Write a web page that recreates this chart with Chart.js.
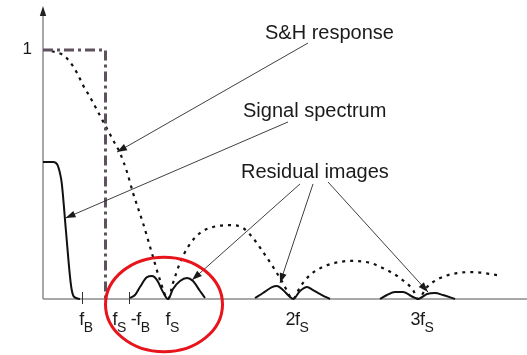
<!DOCTYPE html>
<html>
<head>
<meta charset="utf-8">
<script src="https://cdn.jsdelivr.net/npm/chart.js@4/dist/chart.umd.min.js"></script>
<style>
  html, body { margin: 0; padding: 0; background: #fff; }
  #wrap { width: 527px; height: 355px; }
</style>
</head>
<body>
<div id="wrap"><canvas id="c" width="527" height="355"></canvas></div>
<script>
// Frequency axis in units of the sampling rate fs; amplitude relative to DC gain.

// Ideal (brick-wall) response, drawn dash-dot up to fs/2
const idealX = [0, 0.5, 0.5];
const idealY = [1, 1, 0];

// Sample-and-hold |sinc| response
const shX = [0.07, 0.096, 0.16, 0.216, 0.272, 0.32, 0.376, 0.432, 0.496, 0.56, 0.616, 0.672, 0.72, 0.8, 0.88, 0.936, 1.0,
             1.04, 1.096, 1.16, 1.256, 1.36, 1.496, 1.6, 1.68, 1.76, 1.84, 1.92, 2.0,
             2.056, 2.136, 2.24, 2.376, 2.48, 2.616, 2.752, 2.856, 2.96, 3.0,
             3.072, 3.176, 3.312, 3.44, 3.632];
const shY = [0.995, 0.992, 0.98, 0.952, 0.908, 0.859, 0.811, 0.759, 0.699, 0.639, 0.586, 0.51, 0.426, 0.305, 0.169, 0.076, 0,
             0.064, 0.145, 0.209, 0.265, 0.289, 0.297, 0.285, 0.245, 0.189, 0.129, 0.064, 0,
             0.048, 0.096, 0.129, 0.149, 0.153, 0.145, 0.116, 0.084, 0.036, 0,
             0.048, 0.084, 0.104, 0.108, 0.096];

// Baseband signal spectrum
const sigX = [0, 0.08, 0.115, 0.136, 0.15, 0.183, 0.216, 0.23, 0.248, 0.296];
const sigY = [0.55, 0.55, 0.539, 0.505, 0.465, 0.277, 0.09, 0.036, 0.009, 0];

// Residual images around fs, 2fs and 3fs
const img1X = [0.696, 0.736, 0.776, 0.832, 0.872, 0.912, 0.96, 1.0, 1.04, 1.096, 1.152, 1.2, 1.256, 1.296];
const img1Y = [0.004, 0.016, 0.048, 0.088, 0.092, 0.076, 0.028, 0, 0.04, 0.072, 0.084, 0.072, 0.032, 0.004];
const img2X = [1.696, 1.76, 1.832, 1.872, 1.92, 1.976, 2.0, 2.056, 2.112, 2.16, 2.232, 2.296];
const img2Y = [0.004, 0.024, 0.048, 0.052, 0.036, 0.008, 0, 0.032, 0.048, 0.036, 0.016, 0];
const img3X = [2.696, 2.752, 2.816, 2.88, 2.96, 3.0, 3.072, 3.136, 3.2, 3.296];
const img3Y = [0, 0.016, 0.028, 0.028, 0.008, 0, 0.02, 0.024, 0.016, 0];

// Frequency markers on the axis
const fB = 0.31;
const tickMarks = [fB, 1 - fB];
const tickLabelValues = [fB, 1 - fB, 1, 2, 3];
const tickLabels = ['f_B', 'f_S -f_B', 'f_S', '2f_S', '3f_S'];

const pts = (xs, ys) => xs.map((x, i) => ({ x, y: ys[i] }));

const FONT = "'Liberation Sans', Arial, Helvetica, sans-serif";
const INK = '#1a1a1a';

// Callouts: label text with arrows pointing into the plot (data units)
const callouts = [
  { text: 'S&H response',    at: [1.776, 1.044], arrows: [[[2.12, 1.028], [0.592, 0.59]]] },
  { text: 'Signal spectrum', at: [1.6, 0.731],   arrows: [[[1.96, 0.711], [0.18, 0.325]]] },
  { text: 'Residual images', at: [1.584, 0.486], arrows: [
      [[2.056, 0.462], [1.192, 0.076]],
      [[2.16, 0.462], [1.896, 0.064]],
      [[2.28, 0.47], [3.08, 0.028]]
  ] }
];

function arrowHead(ctx, x0, y0, x1, y1, len, half) {
  const a = Math.atan2(y1 - y0, x1 - x0);
  ctx.beginPath();
  ctx.moveTo(x1, y1);
  ctx.lineTo(x1 - len * Math.cos(a) + half * Math.sin(a), y1 - len * Math.sin(a) - half * Math.cos(a));
  ctx.lineTo(x1 - len * Math.cos(a) - half * Math.sin(a), y1 - len * Math.sin(a) + half * Math.cos(a));
  ctx.closePath();
  ctx.fill();
}

// Draw "f_S"-style text: character after "_" is a subscript
function drawSubText(ctx, label, cx, baseline) {
  const mainFont = '18px ' + FONT, subFont = '14px ' + FONT;
  const parts = [];
  for (let i = 0; i < label.length; i++) {
    if (label[i] === '_') { parts.push({ t: label[i + 1], sub: true }); i++; }
    else parts.push({ t: label[i], sub: false });
  }
  const widths = parts.map(p => { ctx.font = p.sub ? subFont : mainFont; return ctx.measureText(p.t).width; });
  const total = widths.reduce((a, b) => a + b, 0);
  const subCount = parts.filter(p => p.sub).length;
  // single trailing subscript: centre the main part on the marker
  let start;
  if (subCount === 1 && parts[parts.length - 1].sub) start = cx - (total - widths[widths.length - 1]) / 2;
  else start = cx - total / 2 + 3;
  let x = start;
  parts.forEach((p, i) => {
    ctx.font = p.sub ? subFont : mainFont;
    ctx.fillText(p.t, x, p.sub ? baseline + 7 : baseline);
    x += widths[i] - (p.sub ? 0 : 0.5);
  });
}

const axesPlugin = {
  id: 'axesDecor',
  beforeDatasetsDraw(chart) {
    const { ctx, chartArea: a, scales: { x, y } } = chart;
    const x0 = x.getPixelForValue(0), y0 = y.getPixelForValue(0);
    ctx.save();
    ctx.strokeStyle = '#8c8c8c';
    ctx.lineWidth = 1.5;
    ctx.beginPath();
    ctx.moveTo(x0, y0); ctx.lineTo(a.right, y0);
    ctx.moveTo(x0, y0); ctx.lineTo(x0, a.top + 6);
    ctx.stroke();
    ctx.fillStyle = '#222';
    arrowHead(ctx, x0, y0, x0, a.top - 2, 10, 3.2);
    // frequency tick marks
    ctx.strokeStyle = '#333';
    ctx.lineWidth = 1;
    tickMarks.forEach(v => {
      const px = Math.round(x.getPixelForValue(v)) + 0.5;
      ctx.beginPath(); ctx.moveTo(px, y0 - 7); ctx.lineTo(px, y0 + 5); ctx.stroke();
    });
    ctx.restore();
  },
  afterDraw(chart) {
    const { ctx, scales: { x, y } } = chart;
    const y0 = y.getPixelForValue(0);
    ctx.save();
    ctx.fillStyle = INK;
    ctx.textBaseline = 'alphabetic';
    // tick labels
    tickLabelValues.forEach((v, i) => drawSubText(ctx, tickLabels[i], x.getPixelForValue(v), y0 + 26));
    // unit level on the amplitude axis
    ctx.font = '17px ' + FONT;
    ctx.textAlign = 'right';
    ctx.fillText('1', x.getPixelForValue(0) - 11, y.getPixelForValue(1) + 4);
    ctx.textAlign = 'left';
    // callouts
    ctx.font = '20px ' + FONT;
    ctx.strokeStyle = '#2a2a2a';
    ctx.fillStyle = INK;
    ctx.lineWidth = 0.9;
    callouts.forEach(c => {
      ctx.fillText(c.text, x.getPixelForValue(c.at[0]), y.getPixelForValue(c.at[1]));
      c.arrows.forEach(([p, q]) => {
        const xa = x.getPixelForValue(p[0]), ya = y.getPixelForValue(p[1]);
        const xb = x.getPixelForValue(q[0]), yb = y.getPixelForValue(q[1]);
        ctx.beginPath(); ctx.moveTo(xa, ya); ctx.lineTo(xb, yb); ctx.stroke();
        arrowHead(ctx, xa, ya, xb, yb, 10, 3.5);
      });
    });
    // highlight ring around the first image pair
    const cx = x.getPixelForValue(0.968), cy = y.getPixelForValue(-0.022);
    const rx = x.getPixelForValue(0.468) - x.getPixelForValue(0);
    const ry = y.getPixelForValue(0) - y.getPixelForValue(0.19);
    ctx.strokeStyle = '#e8141c';
    ctx.lineWidth = 3;
    ctx.beginPath();
    ctx.ellipse(cx, cy, rx, ry, 0, 0, Math.PI * 2);
    ctx.stroke();
    ctx.restore();
  }
};

const curve = { showLine: true, pointRadius: 0, borderColor: '#111', borderWidth: 2, cubicInterpolationMode: 'monotone', fill: false };

new Chart(document.getElementById('c'), {
  type: 'scatter',
  data: {
    datasets: [
      { ...curve, label: 'Ideal', data: pts(idealX, idealY), borderColor: '#5e525e', borderWidth: 3,
        borderDash: [10, 4, 3, 4], cubicInterpolationMode: 'default', tension: 0 },
      { ...curve, label: 'S&H response', data: pts(shX, shY), borderWidth: 2.2, borderDash: [3, 5] },
      { ...curve, label: 'Signal spectrum', data: pts(sigX, sigY) },
      { ...curve, label: 'Image fs', data: pts(img1X, img1Y) },
      { ...curve, label: 'Image 2fs', data: pts(img2X, img2Y) },
      { ...curve, label: 'Image 3fs', data: pts(img3X, img3Y) }
    ]
  },
  options: {
    responsive: false,
    animation: false,
    devicePixelRatio: 1,
    layout: { padding: { left: 43, right: 0, top: 8, bottom: 56 } },
    scales: {
      x: { type: 'linear', min: 0, max: 3.872, display: false },
      y: { type: 'linear', min: 0, max: 1.1687, display: false }
    },
    plugins: { legend: { display: false }, tooltip: { enabled: false } },
    clip: false
  },
  plugins: [axesPlugin]
});
</script>
</body>
</html>
